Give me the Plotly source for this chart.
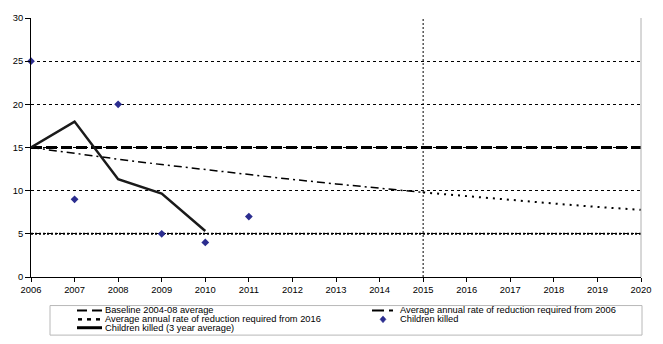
import plotly.graph_objects as go

years = list(range(2006, 2021))
baseline = [15] * len(years)
years_2006 = list(range(2006, 2016))
rate_2006 = [15.0, 14.31, 13.65, 13.02, 12.42, 11.84, 11.30, 10.78, 10.28, 9.80]
years_2016 = list(range(2015, 2021))
rate_2016 = [9.80, 9.35, 8.92, 8.51, 8.11, 7.78]
target_line = [5] * len(years)
avg_years = [2006, 2007, 2008, 2009, 2010]
avg_values = [15.0, 18.0, 11.33, 9.67, 5.33]
killed_years = [2006, 2007, 2008, 2009, 2010, 2011]
killed_values = [25, 9, 20, 5, 4, 7]
marker_year = 2015

W, H = 663, 344
L, R, T, B = 31, 641, 14, 277
FONT = "Liberation Sans, Arial, sans-serif"
NAVY = "#2b2d8f"

fig = go.Figure()
fig.add_trace(go.Scatter(x=years, y=target_line, mode="lines", showlegend=False,
                         line=dict(color="black", width=2, dash="2px,2px"), hoverinfo="skip"))
fig.add_trace(go.Scatter(x=years, y=baseline, mode="lines", name="Baseline 2004-08 average",
                         line=dict(color="black", width=3, dash="11px,4px")))
fig.add_trace(go.Scatter(x=years_2006, y=rate_2006, mode="lines",
                         name="Average annual rate of reduction required from 2006",
                         line=dict(color="black", width=1.5, dash="8px,4px,2px,4px")))
fig.add_trace(go.Scatter(x=years_2016, y=rate_2016, mode="lines",
                         name="Average annual rate of reduction required from 2016",
                         line=dict(color="black", width=2, dash="2px,5px")))
fig.add_trace(go.Scatter(x=avg_years, y=avg_values, mode="lines",
                         name="Children killed (3 year average)",
                         line=dict(color="#1a1a1a", width=2.5)))
fig.add_trace(go.Scatter(x=killed_years, y=killed_values, mode="markers", name="Children killed",
                         marker=dict(symbol="diamond", size=6, color=NAVY), cliponaxis=False))

# vertical marker line
fig.add_shape(type="line", xref="x", yref="y", x0=marker_year, x1=marker_year, y0=0, y1=30.3,
              line=dict(color="black", width=1, dash="2px,2px"))
# right border
fig.add_shape(type="line", xref="paper", yref="paper", x0=1, x1=1, y0=0, y1=1,
              line=dict(color="#b0b0b0", width=1))


def px(xp):
    return (xp - L) / (R - L)


def py(yp):
    return (B - yp) / (B - T)


# manual legend box
fig.add_shape(type="rect", xref="paper", yref="paper", x0=px(50), x1=px(642), y0=py(306), y1=py(336),
              line=dict(color="#b8b8b8", width=1), fillcolor="rgba(0,0,0,0)")

legend_items = [
    ("Baseline 2004-08 average", 77, 311, "base"),
    ("Average annual rate of reduction required from 2016", 77, 320, "dots"),
    ("Children killed (3 year average)", 77, 328.5, "solid"),
    ("Average annual rate of reduction required from 2006", 372, 311, "dashdot"),
    ("Children killed", 372, 320, "diamond"),
]
for text, x0, y0, kind in legend_items:
    tx = x0 + 26
    fig.add_annotation(xref="paper", yref="paper", x=px(tx), y=py(y0), text=text, showarrow=False,
                       xanchor="left", yanchor="middle", font=dict(family=FONT, size=9.3, color="black"))
    if kind == "base":
        for a, b in [(77, 87), (92, 102)]:
            fig.add_shape(type="line", xref="paper", yref="paper", x0=px(a), x1=px(b), y0=py(y0), y1=py(y0),
                          line=dict(color="black", width=2))
    elif kind == "dots":
        for a in [78, 87, 96]:
            fig.add_shape(type="line", xref="paper", yref="paper", x0=px(a), x1=px(a + 4), y0=py(y0), y1=py(y0),
                          line=dict(color="black", width=2.5))
    elif kind == "solid":
        fig.add_shape(type="line", xref="paper", yref="paper", x0=px(77), x1=px(102), y0=py(y0), y1=py(y0),
                      line=dict(color="black", width=3))
    elif kind == "dashdot":
        for a, b in [(372, 384), (389, 393)]:
            fig.add_shape(type="line", xref="paper", yref="paper", x0=px(a), x1=px(b), y0=py(y0), y1=py(y0),
                          line=dict(color="black", width=2))
    elif kind == "diamond":
        cx, cy = 383, y0
        path = "M {0},{1} L {2},{3} L {0},{4} L {5},{3} Z".format(
            px(cx), py(cy - 3.5), px(cx + 3), py(cy), py(cy + 3.5), px(cx - 3))
        fig.add_shape(type="path", xref="paper", yref="paper", path=path,
                      line=dict(color=NAVY, width=0.5), fillcolor=NAVY)

fig.update_layout(
    width=W, height=H,
    margin=dict(l=L, r=W - R, t=T, b=H - B, pad=0),
    paper_bgcolor="white", plot_bgcolor="white",
    showlegend=False,
    font=dict(family=FONT, size=9.4, color="black"),
    xaxis=dict(range=[2006, 2020], tickmode="array", tickvals=years, ticktext=[str(y) for y in years],
               showgrid=False, zeroline=False, showline=True, linecolor="black", linewidth=1,
               ticks="outside", ticklen=4, tickcolor="black", tickfont=dict(size=9.4)),
    yaxis=dict(range=[0, 30], tickvals=[0, 5, 10, 15, 20, 25, 30], showgrid=True, gridcolor="black",
               gridwidth=1, griddash="dot", zeroline=False, showline=True, linecolor="black", linewidth=1,
               ticks="outside", ticklen=5, tickcolor="black", tickfont=dict(size=9.4)),
)

fig.write_html("out.html")
